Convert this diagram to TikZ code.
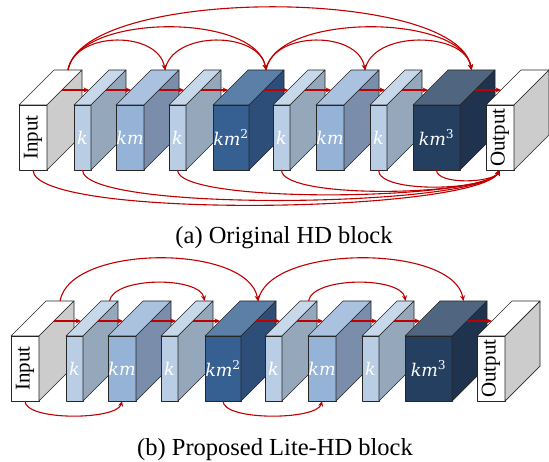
\RequirePackage{fix-cm}
\documentclass[tikz,border=0pt]{standalone}
\usepackage{fontspec}
\setmainfont{Liberation Serif}
\newfontfamily\lblfont{DejaVu Serif}
\usetikzlibrary{arrows.meta,calc}
\definecolor{kF}{HTML}{B9CDE5}
\definecolor{kT}{HTML}{C8D8EB}
\definecolor{kS}{HTML}{95A7BA}
\definecolor{mF}{HTML}{95B3D7}
\definecolor{mT}{HTML}{AAC1DF}
\definecolor{mS}{HTML}{7A8EAB}
\definecolor{mmF}{HTML}{366092}
\definecolor{mmT}{HTML}{5C7FA8}
\definecolor{mmS}{HTML}{2D4E78}
\definecolor{mmmF}{HTML}{243F60}
\definecolor{mmmT}{HTML}{506680}
\definecolor{mmmS}{HTML}{1F324E}
\definecolor{ioF}{HTML}{FFFFFF}
\definecolor{ioT}{HTML}{FFFFFF}
\definecolor{ioS}{HTML}{CCCCCC}
\definecolor{arr}{HTML}{C00000}
\tikzset{
  face/.style={draw=black!85, line width=0.7pt, line join=round},
  flow/.style={draw=arr, line width=1.1pt, -{Stealth[length=5.5pt,width=5pt]}},
  lbl/.style={text=white, font=\lblfont\itshape\fontsize{17.5}{20}\selectfont},
  iolbl/.style={text=black, font=\fontsize{21}{24}\selectfont},
  captext/.style={font=\fontsize{24.5}{28}\selectfont},
}
% #1 name, #2 x, #3 y (top of front face), #4 width, #5 colour prefix, #6 label style, #7 label
\newcommand{\cuboid}[7]{%
  \node[face, fill=#5F, minimum width=#4pt, minimum height=65pt, inner sep=0pt, outer sep=0pt, anchor=north west, #6] (#1) at (#2,#3) {#7};
  \filldraw[face, fill=#5T] (#1.north west) -- ++(35,-35) -- ++(#4,0) -- (#1.north east) -- cycle;
  \filldraw[face, fill=#5S] (#1.north east) -- ++(35,-35) -- ++(0,65) -- (#1.south east) -- cycle;
  \coordinate (#1-t) at ($(#1.north)+(35,-35)$);
  \coordinate (#1-b) at (#1.south);
  \coordinate (#1-l) at ($(#1.north west)+(15,-15)$);
  \coordinate (#1-r) at ($(#1.north east)+(15,-15)$);
}
\newcommand{\sq}{km\textsuperscript{\upshape 2}}
\newcommand{\cb}{km\textsuperscript{\upshape 3}}
\begin{document}
\begin{tikzpicture}[x=1pt, y=-1pt]
\useasboundingbox (0,0) rectangle (549,462);
% ---------- (a) ----------
\cuboid{A0}{19}{105}{28}{io}{iolbl}{\rotatebox{90}{Input}}
\cuboid{A1}{74}{105}{17}{k}{lbl}{k}
\cuboid{A2}{116}{105}{28}{m}{lbl}{km}
\cuboid{A3}{169}{105}{17}{k}{lbl}{k}
\cuboid{A4}{213}{105}{36}{mm}{lbl}{\sq}
\cuboid{A5}{273}{105}{17}{k}{lbl}{k}
\cuboid{A6}{316}{105}{28}{m}{lbl}{km}
\cuboid{A7}{370}{105}{17}{k}{lbl}{k}
\cuboid{A8}{413}{105}{47}{mmm}{lbl}{\cb}
\cuboid{A9}{486}{105}{28}{io}{iolbl}{\rotatebox{90}{Output}}
\foreach \i/\j in {0/1,1/2,2/3,3/4,4/5,5/6,6/7,7/8,8/9}
  \draw[flow] (A\i-r) -- (A\j-l);
\draw[flow] (A0-t) to[out=80,in=100,distance=40pt] (A2-t);
\draw[flow] (A0-t) to[out=80,in=100,distance=58pt] (A4-t);
\draw[flow] (A0-t) to[out=80,in=100,distance=85pt] (A8-t);
\draw[flow] (A2-t) to[out=80,in=100,distance=40pt] (A4-t);
\draw[flow] (A4-t) to[out=80,in=100,distance=40pt] (A6-t);
\draw[flow] (A4-t) to[out=80,in=100,distance=58pt] (A8-t);
\draw[flow] (A6-t) to[out=80,in=100,distance=40pt] (A8-t);
\draw[flow] (A0-b) to[out=-90,in=-120,distance=50pt] (A9-b);
\draw[flow] (A1-b) to[out=-90,in=-120,distance=43pt] (A9-b);
\draw[flow] (A3-b) to[out=-90,in=-120,distance=35pt] (A9-b);
\draw[flow] (A5-b) to[out=-90,in=-120,distance=30pt] (A9-b);
\draw[flow] (A7-b) to[out=-90,in=-120,distance=24pt] (A9-b);
\draw[flow] (A8-b) to[out=-90,in=-120,distance=15pt] (A9-b);
\node[captext] (capA) at (284,238) {(a) Original HD block};
% ---------- (b) ----------
\cuboid{B0}{11}{336}{28}{io}{iolbl}{\rotatebox{90}{Input}}
\cuboid{B1}{66}{336}{17}{k}{lbl}{k}
\cuboid{B2}{108}{336}{28}{m}{lbl}{km}
\cuboid{B3}{161}{336}{17}{k}{lbl}{k}
\cuboid{B4}{205}{336}{36}{mm}{lbl}{\sq}
\cuboid{B5}{265}{336}{17}{k}{lbl}{k}
\cuboid{B6}{308}{336}{28}{m}{lbl}{km}
\cuboid{B7}{362}{336}{17}{k}{lbl}{k}
\cuboid{B8}{405}{336}{47}{mmm}{lbl}{\cb}
\cuboid{B9}{477}{336}{28}{io}{iolbl}{\rotatebox{90}{Output}}
\foreach \i/\j in {0/1,1/2,2/3,3/4,4/5,5/6,6/7,7/8,8/9}
  \draw[flow] (B\i-r) -- (B\j-l);
\draw[flow] (B0-t) to[out=80,in=100,distance=58pt] (B4-t);
\draw[flow] (B1-t) to[out=80,in=100,distance=25pt] (B3-t);
\draw[flow] (B4-t) to[out=80,in=100,distance=58pt] (B8-t);
\draw[flow] (B5-t) to[out=80,in=100,distance=25pt] (B7-t);
\draw[flow] (B0-b) to[out=-90,in=-105,distance=20pt] (B2-b);
\draw[flow] (B4-b) to[out=-90,in=-105,distance=20pt] (B6-b);
\node[captext] (capB) at (275,450) {(b) Proposed Lite-HD block};
\end{tikzpicture}
\end{document}
